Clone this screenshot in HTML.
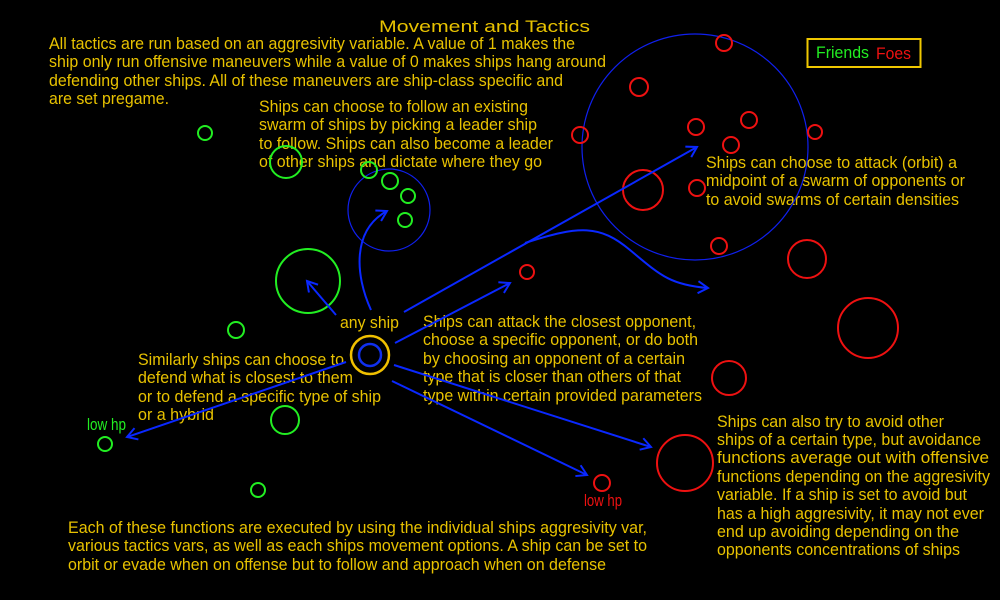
<!DOCTYPE html>
<html><head><meta charset="utf-8"><style>
html,body{margin:0;padding:0;background:#000;width:1000px;height:600px;overflow:hidden}
svg{display:block}
text{font-family:"Liberation Sans",Arial,sans-serif;fill:#e8c200;font-size:17px}
</style></head><body>
<svg width="1000" height="600" viewBox="0 0 1000 600">
<defs>
<marker id="a" markerWidth="14" markerHeight="14" refX="12" refY="7" orient="auto" markerUnits="userSpaceOnUse">
<path d="M2,1 L12,7 L2,13" fill="none" stroke="#0a28ff" stroke-width="2"/>
</marker>
</defs>
<rect width="1000" height="600" fill="#000"/>
<text x="379" y="32" font-size="25" textLength="211" lengthAdjust="spacingAndGlyphs">Movement and Tactics</text>

<g>
<text x="49" y="49" textLength="526" lengthAdjust="spacingAndGlyphs">All tactics are run based on an aggresivity variable. A value of 1 makes the</text>
<text x="49" y="67" textLength="557" lengthAdjust="spacingAndGlyphs">ship only run offensive maneuvers while a value of 0 makes ships hang around</text>
<text x="49" y="86" textLength="514" lengthAdjust="spacingAndGlyphs">defending other ships. All of these maneuvers are ship-class specific and</text>
<text x="49" y="104" textLength="120" lengthAdjust="spacingAndGlyphs">are set pregame.</text>

<text x="259" y="112" textLength="269" lengthAdjust="spacingAndGlyphs">Ships can choose to follow an existing</text>
<text x="259" y="130" textLength="278" lengthAdjust="spacingAndGlyphs">swarm of ships by picking a leader ship</text>
<text x="259" y="149" textLength="294" lengthAdjust="spacingAndGlyphs">to follow. Ships can also become a leader</text>
<text x="259" y="167" textLength="283" lengthAdjust="spacingAndGlyphs">of other ships and dictate where they go</text>

<text x="706" y="168" textLength="251" lengthAdjust="spacingAndGlyphs">Ships can choose to attack (orbit) a</text>
<text x="706" y="186" textLength="259" lengthAdjust="spacingAndGlyphs">midpoint of a swarm of opponents or</text>
<text x="706" y="205" textLength="253" lengthAdjust="spacingAndGlyphs">to avoid swarms of certain densities</text>

<text x="340" y="328" textLength="59" lengthAdjust="spacingAndGlyphs">any ship</text>

<text x="423" y="327" textLength="273" lengthAdjust="spacingAndGlyphs">Ships can attack the closest opponent,</text>
<text x="423" y="345" textLength="275" lengthAdjust="spacingAndGlyphs">choose a specific opponent, or do both</text>
<text x="423" y="364" textLength="262" lengthAdjust="spacingAndGlyphs">by choosing an opponent of a certain</text>
<text x="423" y="382" textLength="258" lengthAdjust="spacingAndGlyphs">type that is closer than others of that</text>
<text x="423" y="401" textLength="279" lengthAdjust="spacingAndGlyphs">type within certain provided parameters</text>

<text x="138" y="365" textLength="206" lengthAdjust="spacingAndGlyphs">Similarly ships can choose to</text>
<text x="138" y="383" textLength="215" lengthAdjust="spacingAndGlyphs">defend what is closest to them</text>
<text x="138" y="402" textLength="243" lengthAdjust="spacingAndGlyphs">or to defend a specific type of ship</text>
<text x="138" y="420" textLength="76" lengthAdjust="spacingAndGlyphs">or a hybrid</text>

<text x="717" y="427" textLength="227" lengthAdjust="spacingAndGlyphs">Ships can also try to avoid other</text>
<text x="717" y="445" textLength="264" lengthAdjust="spacingAndGlyphs">ships of a certain type, but avoidance</text>
<text x="717" y="463" textLength="272" lengthAdjust="spacingAndGlyphs">functions average out with offensive</text>
<text x="717" y="482" textLength="273" lengthAdjust="spacingAndGlyphs">functions depending on the aggresivity</text>
<text x="717" y="500" textLength="250" lengthAdjust="spacingAndGlyphs">variable. If a ship is set to avoid but</text>
<text x="717" y="519" textLength="267" lengthAdjust="spacingAndGlyphs">has a high aggresivity, it may not ever</text>
<text x="717" y="537" textLength="242" lengthAdjust="spacingAndGlyphs">end up avoiding depending on the</text>
<text x="717" y="555" textLength="243" lengthAdjust="spacingAndGlyphs">opponents concentrations of ships</text>

<text x="68" y="533" textLength="579" lengthAdjust="spacingAndGlyphs">Each of these functions are executed by using the individual ships aggresivity var,</text>
<text x="68" y="551" textLength="579" lengthAdjust="spacingAndGlyphs">various tactics vars, as well as each ships movement options. A ship can be set to</text>
<text x="68" y="570" textLength="538" lengthAdjust="spacingAndGlyphs">orbit or evade when on offense but to follow and approach when on defense</text>
</g>

<text x="87" y="430" font-size="13" style="fill:#22ee22" textLength="39" lengthAdjust="spacingAndGlyphs">low hp</text>
<text x="584" y="506" font-size="13" style="fill:#ee1111" textLength="38" lengthAdjust="spacingAndGlyphs">low hp</text>

<rect x="807.5" y="39" width="113" height="28" fill="none" stroke="#f0c800" stroke-width="2"/>
<text x="816" y="58" style="fill:#22ee22" textLength="53" lengthAdjust="spacingAndGlyphs">Friends</text>
<text x="876" y="59" style="fill:#ee1111" textLength="35" lengthAdjust="spacingAndGlyphs">Foes</text>

<circle cx="695" cy="147" r="113" fill="none" stroke="#1020ee" stroke-width="1.2"/>
<circle cx="389" cy="210" r="41" fill="none" stroke="#1020ee" stroke-width="1.2"/>

<g fill="none" stroke="#22ee22" stroke-width="2">
<circle cx="205" cy="133" r="7"/>
<circle cx="286" cy="162" r="16"/>
<circle cx="369" cy="170" r="8"/>
<circle cx="390" cy="181" r="8"/>
<circle cx="408" cy="196" r="7"/>
<circle cx="405" cy="220" r="7"/>
<circle cx="308" cy="281" r="32"/>
<circle cx="236" cy="330" r="8"/>
<circle cx="285" cy="420" r="14"/>
<circle cx="105" cy="444" r="7"/>
<circle cx="258" cy="490" r="7"/>
</g>
<g fill="none" stroke="#ee1111" stroke-width="2">
<circle cx="724" cy="43" r="8"/>
<circle cx="639" cy="87" r="9"/>
<circle cx="580" cy="135" r="8"/>
<circle cx="696" cy="127" r="8"/>
<circle cx="749" cy="120" r="8"/>
<circle cx="731" cy="145" r="8"/>
<circle cx="815" cy="132" r="7"/>
<circle cx="643" cy="190" r="20"/>
<circle cx="697" cy="188" r="8"/>
<circle cx="719" cy="246" r="8"/>
<circle cx="807" cy="259" r="19"/>
<circle cx="527" cy="272" r="7"/>
<circle cx="868" cy="328" r="30"/>
<circle cx="729" cy="378" r="17"/>
<circle cx="685" cy="463" r="28"/>
<circle cx="602" cy="483" r="8"/>
</g>

<circle cx="370" cy="355" r="19" fill="none" stroke="#f0c000" stroke-width="2.5"/>
<circle cx="370" cy="355" r="11" fill="none" stroke="#1030ee" stroke-width="2.5"/>

<g fill="none" stroke="#0a28ff" stroke-width="2" marker-end="url(#a)">
<line x1="336" y1="315" x2="307" y2="281"/>
<path d="M371,310 C355,275 352,230 387,211"/>
<line x1="404" y1="312" x2="697" y2="147"/>
<line x1="395" y1="343" x2="510" y2="283"/>
<path d="M525,243 C580,225 600,225 630,250 C660,275 670,285 708,288"/>
<line x1="394" y1="365" x2="651" y2="447"/>
<line x1="392" y1="381" x2="587" y2="475"/>
<line x1="346" y1="362" x2="127" y2="437"/>
</g>
</svg>
</body></html>
